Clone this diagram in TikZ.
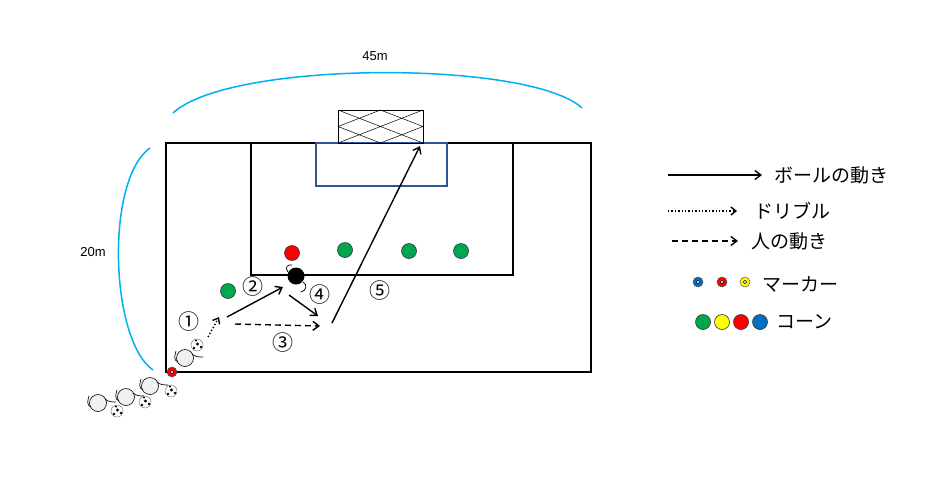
\documentclass[tikz,border=0pt]{standalone}
\usepackage{fontspec}
\setmainfont{Liberation Sans}
\newfontfamily\cjk{Noto Sans CJK JP}
\usetikzlibrary{arrows.meta}
\definecolor{sky}{HTML}{00B0F0}
\definecolor{gblue}{HTML}{2F5597}
\definecolor{cg}{HTML}{00A650}
\definecolor{cy}{HTML}{FFFF00}
\definecolor{cr}{HTML}{FF0000}
\definecolor{cb}{HTML}{0070C0}
\begin{document}
\begin{tikzpicture}[x=1pt,y=-1pt,
  arr/.style={line width=1.4pt,-{Straight Barb[length=6pt,width=9pt]}},
  cone/.style={circle,draw=black!80,line width=0.6pt,minimum size=15pt,inner sep=0},
  marker/.style={circle,draw=black!70,line width=0.5pt,minimum size=10pt,inner sep=0},
  hole/.style={circle,draw=black,fill=white,line width=0.4pt,minimum size=3.5pt,inner sep=0},
  pl/.style={circle,draw=black,fill=black!6,line width=0.6pt,minimum size=17pt,inner sep=0},
  ball/.style={circle,draw=black!60,fill=white,line width=0.4pt,minimum size=12pt,inner sep=0},
  arm/.style={line width=0.7pt},
  num/.style={font=\cjk\fontsize{21}{21}\selectfont,inner sep=0},
  lab/.style={font=\fontsize{13}{13}\selectfont,inner sep=0},
  leg/.style={font=\cjk\fontsize{19}{19}\selectfont,anchor=west,inner sep=0}]
\useasboundingbox (0,0) rectangle (925,491);
\newcommand{\myarms}[1]{\draw[arm] ([shift={(-7pt,-4pt)}]#1.center) .. controls +(-5,-2) and +(-1,4) .. +(-2,-11);
  \draw[arm] ([shift={(7pt,4pt)}]#1.center) .. controls +(3,3) and +(-3,0) .. +(11,3);}
\newcommand{\balldots}[1]{\fill ([shift={(0.5pt,1pt)}]#1.center) circle (1.6pt);
  \fill ([shift={(-3pt,-3pt)}]#1.center) circle (1.3pt);
  \fill ([shift={(4pt,-2pt)}]#1.center) circle (1.3pt);
  \fill ([shift={(-1pt,4.5pt)}]#1.center) circle (1.2pt);}
% field
\node[draw=black,line width=2pt,minimum width=425pt,minimum height=229pt,inner sep=0] (field) at (378.5,257.5) {};
\node[draw=black,line width=2pt,minimum width=262pt,minimum height=132pt,inner sep=0] (box) at (382,209) {};
\node[draw=gblue,line width=1.5pt,minimum width=131pt,minimum height=43pt,inner sep=0] (goal) at (381.5,164.5) {};
\node[draw=black,line width=0.5pt,minimum width=85pt,minimum height=33pt,inner sep=0] (net) at (380.5,126.5) {};
\draw[line width=0.5pt] (338,110) -- (423,143) (338,126.5) -- (380.5,143) (380.5,110) -- (423,126.5)
  (338,143) -- (423,110) (338,126.5) -- (380.5,110) (380.5,143) -- (423,126.5);
% dimension arcs
\coordinate (a1) at (173,113); \coordinate (a2) at (582,108);
\draw[sky,line width=1.5pt] (a1) .. controls (230,60) and (530,60) .. (a2);
\node[lab] (l45) at (375,56) {45m};
\coordinate (b1) at (150,148); \coordinate (b2) at (153,370);
\draw[sky,line width=1.5pt] (b1) .. controls (105,180) and (110,340) .. (b2);
\node[lab] (l20) at (93,252) {20m};
% cones
\node[cone,fill=cr] (c1) at (292,253) {};
\node[cone,fill=cg] (c2) at (345,250) {};
\node[cone,fill=cg] (c3) at (409,251) {};
\node[cone,fill=cg] (c4) at (461,251) {};
\node[cone,fill=cg] (c5) at (228,291) {};
% players
\node[circle,fill=black,minimum size=17pt,inner sep=0] (dp) at (296,276) {};
\draw[arm] (288,272) .. controls (284,267) and (288,264) .. (292,265);
\draw[arm] (303,282) .. controls (308,285) and (306,291) .. (301,292);
\node[pl] (p1) at (185,358) {}; \myarms{p1}
\node[pl] (p2) at (150,386) {}; \myarms{p2}
\node[pl] (p3) at (126,397) {}; \myarms{p3}
\node[pl] (p4) at (98,403) {}; \myarms{p4}
\node[ball] (b0) at (197,345) {}; \balldots{b0}
\node[ball] (bb1) at (171,391) {}; \balldots{bb1}
\node[ball] (bb2) at (145,402) {}; \balldots{bb2}
\node[ball] (bb3) at (117,411) {}; \balldots{bb3}
\node[marker,fill=cr] (m0) at (172,372) {}; \node[hole] at (m0) {};
% arrows
\coordinate (d1) at (208,337); \coordinate (d2) at (219,317);
\draw[line width=1.4pt,dotted,-{Straight Barb[length=5pt,width=8pt]}] (d1) -- (d2);
\coordinate (s2a) at (227,317); \coordinate (s2b) at (283,287);
\draw[arr] (s2a) -- (s2b);
\coordinate (s4a) at (289,295); \coordinate (s4b) at (318,316);
\draw[arr] (s4a) -- (s4b);
\coordinate (s3a) at (235,324); \coordinate (s3b) at (320,326);
\draw[arr,dash pattern=on 6pt off 4pt] (s3a) -- (s3b);
\coordinate (s5a) at (332,323); \coordinate (s5b) at (420,146);
\draw[arr] (s5a) -- (s5b);
\node[num] (n1) at (189,322) {①};
\node[num] (n2) at (253,287) {②};
\node[num] (n3) at (283,343) {③};
\node[num] (n4) at (320,295) {④};
\node[num] (n5) at (380,291) {⑤};
% legend
\coordinate (g1a) at (668,175); \coordinate (g1b) at (762,175);
\draw[arr] (g1a) -- (g1b);
\node[leg] (t1) at (774,175) {ボールの動き};
\coordinate (g2a) at (668,211); \coordinate (g2b) at (737,211);
\draw[line width=1.4pt,dotted,-{Straight Barb[length=5pt,width=8pt]}] (g2a) -- (g2b);
\node[leg] (t2) at (754,211) {ドリブル};
\coordinate (g3a) at (672,241); \coordinate (g3b) at (738,241);
\draw[arr,dash pattern=on 6pt off 4pt] (g3a) -- (g3b);
\node[leg] (t3) at (751,241) {人の動き};
\node[marker,fill=cb] (m1) at (698,282) {}; \node[hole] at (m1) {};
\node[marker,fill=cr] (m2) at (722,282) {}; \node[hole] at (m2) {};
\node[marker,fill=cy] (m3) at (745,282) {}; \node[hole] at (m3) {};
\node[leg] (t4) at (762,284) {マーカー};
\node[cone,fill=cg] (k1) at (703,322) {};
\node[cone,fill=cy] (k2) at (722,322) {};
\node[cone,fill=cr] (k3) at (741,322) {};
\node[cone,fill=cb] (k4) at (760,322) {};
\node[leg] (t5) at (776,322) {コーン};
\end{tikzpicture}
\end{document}
